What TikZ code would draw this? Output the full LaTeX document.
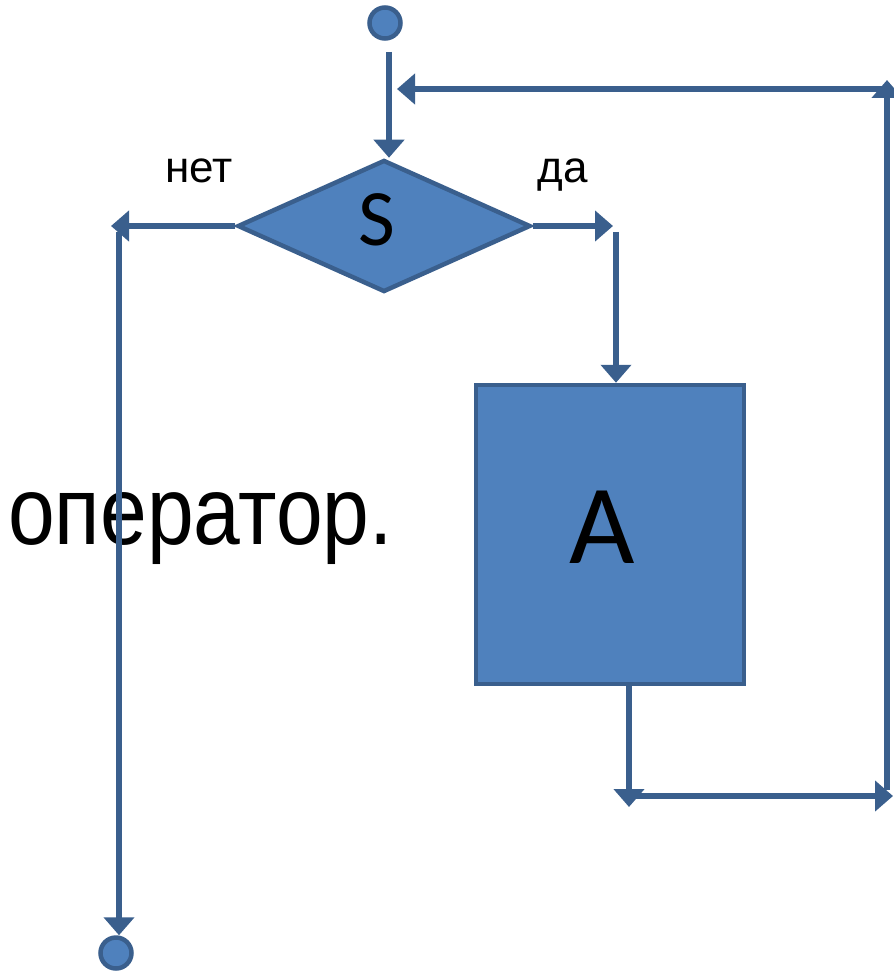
\documentclass[tikz,border=0pt]{standalone}
\usepackage{fontspec}
\setmainfont{Liberation Sans}
\newfontfamily\calibrifont{Carlito}
\usetikzlibrary{arrows.meta,shapes.geometric}
\definecolor{fillblue}{HTML}{4F81BD}
\definecolor{lineblue}{HTML}{3A5F8D}
\begin{document}
\begin{tikzpicture}[x=1pt,y=-1pt,
  conn/.style={draw=lineblue,line width=6pt,-{Triangle[length=18pt,width=30pt]}},
  term/.style={circle,fill=fillblue,draw=lineblue,line width=4.5pt,minimum size=31pt,inner sep=0pt},
  blk/.style={fill=fillblue,draw=lineblue,line width=4.5pt,inner sep=0pt},
  lbl/.style={font=\fontsize{44}{44}\selectfont,inner sep=0pt,anchor=base},
  big/.style={font=\calibrifont,inner sep=0pt,anchor=base}]
\useasboundingbox (0,0) rectangle (893,973);

% text behind lines
\node[inner sep=0pt,anchor=base west,font=\fontsize{84}{84}\selectfont] (op) at (8,544) {\scalebox{1}[1.15]{оператор.}};

% terminals
\node[term] (start) at (385,23) {};
\node[term] (stop) at (116,953) {};

% decision
\node[blk,diamond,minimum width=293pt,minimum height=132pt] (cond) at (384,226) {};
\node[big,font=\calibrifont\fontsize{80}{80}\selectfont] (S) at (377,246) {S};

% process box
\node[blk,rectangle,minimum width=268pt,minimum height=299pt] (box) at (610,534.5) {};
\node[big,font=\calibrifont\fontsize{113}{113}\selectfont] (A) at (602,563) {A};

% labels
\node[lbl] (net) at (199,183) {нет};
\node[lbl] (da) at (563,183) {да};

% coordinates
\coordinate (s0) at (389,52);
\coordinate (noend) at (111,226);
\coordinate (nov0) at (119,232);
\coordinate (yesend) at (613,226);
\coordinate (yesv0) at (616,232);
\coordinate (boxout) at (629,686);
\coordinate (loopdown) at (629,807);
\coordinate (loopl) at (636,796);
\coordinate (loopr) at (893,796);
\coordinate (rv0) at (887,790);
\coordinate (rvtop) at (887,80);
\coordinate (rh0) at (882,89);
\coordinate (rhend) at (397,89);

% connectors
\draw[conn] (s0) -- (s0 |- cond.north);
\draw[conn] (rh0) -- (rhend);
\draw[conn] (cond.west) -- (noend);
\draw[conn] (nov0) -- (nov0 |- stop.north);
\draw[conn] (cond.east) -- (yesend);
\draw[conn] (yesv0) -- (yesv0 |- box.north);
\draw[conn] (boxout) -- (loopdown);
\draw[conn] (loopl) -- (loopr);
\draw[conn] (rv0) -- (rvtop);
\end{tikzpicture}
\end{document}
